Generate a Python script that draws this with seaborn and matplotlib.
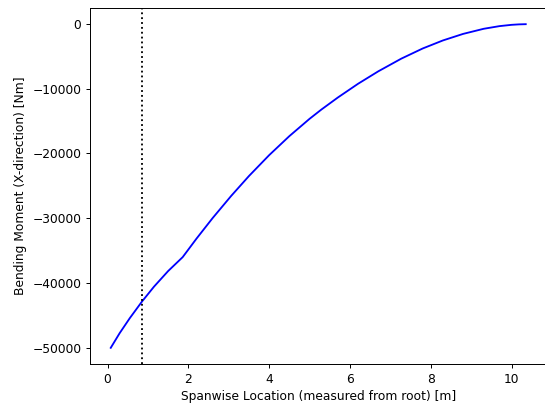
import matplotlib
matplotlib.use("Agg")
import matplotlib.pyplot as plt
import seaborn as sns
import pandas as pd

# Spanwise location [m]
span = [0.08, 0.30, 0.55, 0.85, 1.15, 1.50, 1.86, 2.20, 2.60, 3.06, 3.50,
        4.00, 4.50, 5.00, 5.29, 5.70, 6.20, 6.70, 7.27, 7.80, 8.30, 8.80,
        9.31, 9.70, 10.00, 10.18, 10.35]
# Bending moment [Nm]
moment = [-50000, -47740, -45430, -42880, -40560, -38150, -36000, -33160, -29980,
          -26550, -23480, -20260, -17320, -14650, -13230, -11360, -9240, -7320,
          -5360, -3790, -2550, -1540, -750, -340, -140, -70, -40]
# Marker location (dotted vertical line)
marker_x = 0.85

df = pd.DataFrame({"span": span, "moment": moment})

DPI = 88
fig = plt.figure(figsize=(545 / DPI, 405 / DPI), dpi=DPI)
ax = fig.add_axes([90 / 545, 1 - 364 / 405, 456.5 / 545, (364 - 8) / 405])
sns.lineplot(data=df, x="span", y="moment", color="blue", linewidth=1.5, ax=ax)
ax.axvline(marker_x, color="black", linestyle=":", linewidth=1.5)
ax.set_xlabel("Spanwise Location (measured from root) [m]")
ax.set_ylabel("Bending Moment (X-direction) [Nm]")
fig.savefig("out.png", dpi=DPI)
